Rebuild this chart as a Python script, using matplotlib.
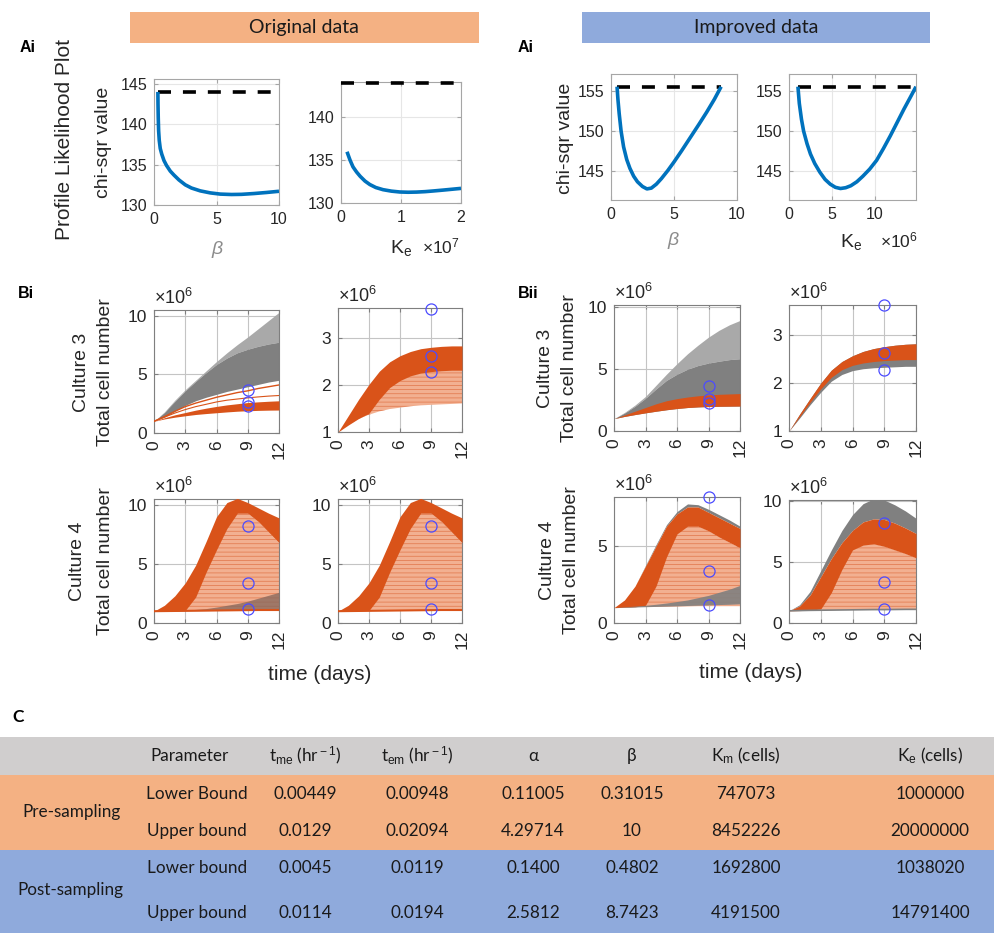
import matplotlib
matplotlib.use("Agg")
import matplotlib.pyplot as plt
from matplotlib.patches import Rectangle

W, H = 994, 933

plt.rcParams['font.family'] = ['Liberation Sans', 'DejaVu Sans']
plt.rcParams['mathtext.fontset'] = 'custom'
plt.rcParams['mathtext.rm'] = 'Liberation Sans'
plt.rcParams['mathtext.it'] = 'Liberation Sans:italic'
plt.rcParams['hatch.linewidth'] = 0.5

ORANGE = '#D95319'
LIGHT_OR = '#F2B091'
GREY = '#808080'
LIGHT_GREY = '#A9A9A9'
BLUE = '#0072BD'
DATA_BLUE = '#4B4BFF'
TXT = '#262626'
TABLE_FONT = ['Lato', 'DejaVu Sans']

# --- A: profile likelihood (chi-sqr) ---
orig_beta = [0.31, 0.32, 0.34, 0.37, 0.42, 0.5, 0.62, 0.8, 1.0, 1.3, 1.6, 2.0, 2.5, 3.0,
             3.7, 4.5, 5.3, 6.2, 7.0, 8.0, 9.0, 10.0]
orig_beta_chi = [144.0, 142.5, 140.8, 139.2, 138.0, 137.0, 136.3, 135.5, 134.9, 134.2, 133.7,
                 133.1, 132.5, 132.1, 131.75, 131.5, 131.35, 131.3, 131.32, 131.42, 131.55, 131.7]
orig_ke = [0.1, 0.15, 0.2, 0.26, 0.32, 0.4, 0.48, 0.58, 0.7, 0.84, 0.98, 1.12, 1.26, 1.4,
           1.54, 1.7, 1.85, 2.0]
orig_ke_chi = [135.96, 135.0, 134.2, 133.6, 133.1, 132.55, 132.15, 131.8, 131.55, 131.38,
               131.28, 131.25, 131.27, 131.32, 131.4, 131.5, 131.6, 131.7]
orig_threshold = 144.0

impr_beta = [0.48, 0.55, 0.65, 0.8, 1.0, 1.25, 1.5, 1.8, 2.1, 2.5, 2.85, 3.2, 3.6, 4.0, 4.5,
             5.0, 5.6, 6.3, 7.0, 7.6, 8.2, 8.74]
impr_beta_chi = [155.6, 154.0, 152.2, 150.0, 148.0, 146.4, 145.3, 144.3, 143.6, 143.0, 142.7,
                 142.8, 143.3, 144.0, 145.0, 146.1, 147.5, 149.2, 150.9, 152.4, 154.0, 155.6]
impr_ke = [1.04, 1.2, 1.45, 1.7, 2.1, 2.5, 3.0, 3.6, 4.2, 4.8, 5.4, 6.0, 6.6, 7.2, 7.9, 8.6,
           9.4, 10.2, 11.0, 11.8, 12.6, 13.4, 14.1, 14.79]
impr_ke_chi = [155.6, 153.5, 151.5, 150.0, 148.4, 147.1, 145.9, 144.8, 143.9, 143.3, 142.9,
               142.75, 142.85, 143.1, 143.6, 144.3, 145.2, 146.3, 147.8, 149.4, 151.1, 152.8,
               154.2, 155.6]
impr_threshold = 155.6

# --- B: simulated cell numbers (x 1e6), envelopes of the ensembles ---
days = [0, 1, 2, 3, 4, 5, 6, 7, 8, 9, 10, 11, 12]
day_ticks = [0, 3, 6, 9, 12]
obs_day = 9
obs_culture3 = [3.63, 2.62, 2.28]
obs_culture4 = [8.2, 3.38, 1.18]

# original data, culture 3, beta profile
o3b_grey_hi = [1.0, 1.8, 2.8, 3.7, 4.5, 5.3, 6.1, 6.85, 7.55, 8.2, 8.9, 9.6, 10.3]
o3b_grey_mid = [1.0, 1.75, 2.7, 3.6, 4.4, 5.15, 5.85, 6.4, 6.85, 7.15, 7.4, 7.6, 7.75]
o3b_grey_lo = [1.0, 1.35, 1.85, 2.35, 2.75, 3.05, 3.3, 3.55, 3.75, 3.95, 4.15, 4.35, 4.5]
o3b_line1 = [1.0, 1.4, 1.85, 2.25, 2.55, 2.8, 3.05, 3.25, 3.45, 3.6, 3.8, 3.95, 4.1]
o3b_line2 = [1.0, 1.35, 1.7, 2.0, 2.25, 2.45, 2.65, 2.8, 2.9, 3.0, 3.08, 3.15, 3.2]
o3b_band_hi = [1.0, 1.3, 1.55, 1.75, 1.95, 2.12, 2.27, 2.4, 2.5, 2.6, 2.66, 2.71, 2.75]
o3b_band_lo = [1.0, 1.2, 1.35, 1.47, 1.58, 1.66, 1.73, 1.8, 1.86, 1.9, 1.93, 1.95, 1.96]

# original data, culture 3, Ke profile
o3k_hi = [1.0, 1.35, 1.7, 2.02, 2.3, 2.5, 2.63, 2.72, 2.78, 2.81, 2.83, 2.84, 2.84]
o3k_mid = [1.0, 1.15, 1.29, 1.4, 1.7, 1.95, 2.1, 2.2, 2.26, 2.29, 2.31, 2.32, 2.32]
o3k_lo = [1.0, 1.15, 1.28, 1.37, 1.44, 1.49, 1.52, 1.55, 1.57, 1.58, 1.59, 1.6, 1.61]

# improved data, culture 3, beta profile
i3b_grey_hi = [1.0, 1.5, 2.1, 2.8, 3.7, 4.6, 5.45, 6.25, 6.95, 7.6, 8.15, 8.6, 8.95]
i3b_grey_mid = [1.0, 1.45, 2.0, 2.65, 3.4, 4.1, 4.6, 5.0, 5.3, 5.5, 5.65, 5.78, 5.85]
i3b_band_hi = [1.0, 1.3, 1.6, 1.9, 2.2, 2.45, 2.62, 2.75, 2.85, 2.92, 2.97, 3.0, 3.03]
i3b_band_lo = [1.0, 1.18, 1.33, 1.47, 1.6, 1.72, 1.82, 1.9, 1.95, 1.98, 2.0, 2.01, 2.02]

# improved data, culture 3, Ke profile
i3k_hi = [1.0, 1.35, 1.68, 2.0, 2.27, 2.45, 2.57, 2.66, 2.72, 2.76, 2.79, 2.81, 2.82]
i3k_lo = [1.0, 1.3, 1.6, 1.88, 2.12, 2.28, 2.37, 2.42, 2.45, 2.47, 2.48, 2.49, 2.49]
i3k_grey_lo = [1.0, 1.27, 1.55, 1.81, 2.04, 2.18, 2.26, 2.3, 2.32, 2.33, 2.34, 2.35, 2.35]

# original data, culture 4 (same envelope in both profiles)
o4_hi = [1.0, 1.5, 2.3, 3.4, 4.9, 6.9, 9.0, 10.2, 10.55, 10.2, 9.75, 9.3, 8.9]
o4_mid = [1.0, 1.01, 1.03, 1.06, 2.2, 4.3, 6.2, 8.0, 9.3, 9.3, 8.6, 7.7, 6.8]
o4_lo = [1.0, 1.01, 1.02, 1.03, 1.04, 1.05, 1.06, 1.07, 1.08, 1.09, 1.1, 1.1, 1.1]
o4b_grey_hi = [1.0, 1.02, 1.05, 1.1, 1.15, 1.22, 1.35, 1.5, 1.65, 1.85, 2.1, 2.35, 2.6]

# improved data, culture 4, beta profile
i4b_grey_hi = [1.0, 1.5, 2.4, 3.75, 5.1, 6.4, 7.25, 7.75, 7.7, 7.4, 7.05, 6.7, 6.3]
i4b_hi = [1.0, 1.5, 2.4, 3.7, 5.0, 6.3, 7.1, 7.55, 7.55, 7.2, 6.85, 6.5, 6.15]
i4b_mid = [1.0, 1.02, 1.05, 1.15, 2.4, 4.3, 5.8, 6.3, 6.3, 6.0, 5.6, 5.25, 4.9]
i4b_lo = [1.0, 1.02, 1.04, 1.05, 1.06, 1.07, 1.08, 1.09, 1.1, 1.1, 1.1, 1.1, 1.1]
i4b_low_grey_hi = [1.0, 1.05, 1.1, 1.15, 1.22, 1.3, 1.4, 1.5, 1.65, 1.8, 2.0, 2.2, 2.45]
i4b_low_grey_lo = [1.0, 1.02, 1.04, 1.06, 1.08, 1.1, 1.12, 1.14, 1.16, 1.18, 1.2, 1.22, 1.25]

# improved data, culture 4, Ke profile
i4k_grey_hi = [1.0, 1.5, 2.6, 4.3, 6.0, 7.6, 8.9, 9.8, 10.2, 10.1, 9.7, 9.2, 8.6]
i4k_hi = [1.0, 1.4, 2.3, 3.8, 5.3, 6.6, 7.6, 8.3, 8.55, 8.5, 8.2, 7.8, 7.35]
i4k_mid = [1.0, 1.02, 1.05, 1.15, 2.5, 4.4, 6.0, 6.4, 6.5, 6.3, 6.0, 5.7, 5.35]
i4k_lo = [1.0, 1.02, 1.04, 1.05, 1.06, 1.07, 1.08, 1.09, 1.1, 1.1, 1.11, 1.12, 1.12]

# --- C: parameter table ---
table_header = ["Parameter", r"t$_{\rm me}$ (hr$^{\rm -1}$)", r"t$_{\rm em}$ (hr$^{\rm -1}$)",
                "α", "β", r"K$_{\rm m}$ (cells)", r"K$_{\rm e}$ (cells)"]
pre_lower = ["0.00449", "0.00948", "0.11005", "0.31015", "747073", "1000000"]
pre_upper = ["0.0129", "0.02094", "4.29714", "10", "8452226", "20000000"]
post_lower = ["0.0045", "0.0119", "0.1400", "0.4802", "1692800", "1038020"]
post_upper = ["0.0114", "0.0194", "2.5812", "8.7423", "4191500", "14791400"]


fig = plt.figure(figsize=(W / 100, H / 100), dpi=100)


def px_axes(x0, y0, x1, y1):
    return fig.add_axes([x0 / W, 1 - y1 / H, (x1 - x0) / W, (y1 - y0) / H])


def ftext(x, y, s, **kw):
    return fig.text(x / W, 1 - y / H, s, **kw)


# ---------- table (drawn first, in pixel coordinates) ----------
tab = fig.add_axes([0, 0, 1, 1])
tab.set_xlim(0, W)
tab.set_ylim(H, 0)
tab.axis('off')
tab.add_patch(Rectangle((0, 737), W, 38, color='#D0CECE', lw=0))
tab.add_patch(Rectangle((0, 775), W, 75, color='#F4B183', lw=0))
tab.add_patch(Rectangle((0, 850), W, 83, color='#8FAADC', lw=0))

col_x = [190, 305, 417, 533, 632, 746, 930]
tkw = dict(ha='center', va='center', fontsize=12.3, color='#1a1a1a', family=TABLE_FONT)
for x, s in zip(col_x, table_header):
    tab.text(x, 756, s, **tkw)
rows = [("Lower Bound", pre_lower, 794), ("Upper bound", pre_upper, 831),
        ("Lower bound", post_lower, 868), ("Upper bound", post_upper, 913)]
for label, vals, y in rows:
    tab.text(col_x[0] + 7, y, label, **tkw)
    for x, v in zip(col_x[1:], vals):
        tab.text(x, y, v, **tkw)
tab.text(72, 812, "Pre-sampling", **tkw)
tab.text(70, 890, "Post-sampling", **tkw)
ftext(12, 717, "C", fontsize=12.5, fontweight='bold', family=TABLE_FONT, va='center')

# ---------- header boxes ----------
tab.add_patch(Rectangle((130, 12), 349, 31, color='#F4B183', lw=0))
tab.add_patch(Rectangle((582, 12), 348, 31, color='#8FAADC', lw=0))
tab.text(304, 28, "Original data", ha='center', va='center', fontsize=14, family=TABLE_FONT, color='#1a1a1a')
tab.text(756, 28, "Improved data", ha='center', va='center', fontsize=14, family=TABLE_FONT, color='#1a1a1a')

for x, y, s in [(20, 47, "Ai"), (518, 47, "Ai"), (18, 293, "Bi"), (518, 293, "Bii")]:
    ftext(x, y, s, fontsize=11.5, fontweight='bold', va='center', ha='left')


# ---------- A panels ----------
def profile(box, x, y, thr, thr_x, xlim, ylim, xticks, yticks):
    ax = px_axes(*box)
    ax.plot(thr_x, [thr, thr], color='black', lw=2.6, ls=(0, (3.6, 3.3)), clip_on=False, zorder=3)
    ax.plot(x, y, color=BLUE, lw=2.6, solid_capstyle='butt', solid_joinstyle='round', zorder=4)
    ax.set_xlim(xlim)
    ax.set_ylim(ylim)
    ax.set_xticks(xticks)
    ax.set_yticks(yticks)
    ax.grid(True, color='#e6e6e6', lw=0.8)
    ax.set_axisbelow(True)
    for s in ax.spines.values():
        s.set_color('#a6a6a6')
        s.set_linewidth(0.8)
    ax.tick_params(direction='in', length=3, color='#a6a6a6', labelsize=11.5,
                   labelcolor=TXT, pad=5, top=True, right=True)
    return ax


profile((154, 79, 279, 205), orig_beta, orig_beta_chi, orig_threshold, [orig_beta[0], 10],
        (0, 10), (130, 145.6), [0, 5, 10], [130, 135, 140, 145])
profile((341, 82, 461, 203), orig_ke, orig_ke_chi, orig_threshold, [0, 2],
        (0, 2), (130, 144.07), [0, 1, 2], [130, 135, 140])
profile((611, 74, 737, 200), impr_beta, impr_beta_chi, impr_threshold, [impr_beta[0], impr_beta[-1]],
        (0, 10), (141.3, 157.2), [0, 5, 10], [145, 150, 155])
profile((789, 74, 916, 200), impr_ke, impr_ke_chi, impr_threshold, [impr_ke[0], impr_ke[-1]],
        (0, 14.79), (141.3, 157.2), [0, 5, 10], [145, 150, 155])

ftext(65, 140, "Profile Likelihood Plot", rotation=90, fontsize=15, ha='center', va='center', color=TXT)
ftext(103, 142, "chi-sqr value", rotation=90, fontsize=14, ha='center', va='center', color=TXT)
ftext(566, 138, "chi-sqr value", rotation=90, fontsize=14, ha='center', va='center', color=TXT)
ftext(217, 249, "β", fontsize=14, style='italic', color='#8c8c8c', ha='center', va='center')
ftext(673, 241, "β", fontsize=14, style='italic', color='#8c8c8c', ha='center', va='center')
ftext(401, 248, r"K$_{\rm e}$", fontsize=14, color=TXT, ha='center', va='center')
ftext(422, 246, r"$\times10^{7}$", fontsize=12.5, color=TXT, ha='left', va='center')
ftext(851, 242, r"K$_{\rm e}$", fontsize=14, color=TXT, ha='center', va='center')
ftext(880, 240, r"$\times10^{6}$", fontsize=12.5, color=TXT, ha='left', va='center')


# ---------- B panels ----------
def ensemble(box, ylim, yticks):
    ax = px_axes(*box)
    ax.set_xlim(0, 12)
    ax.set_ylim(ylim)
    ax.set_xticks(day_ticks)
    ax.set_yticks(yticks)
    ax.grid(True, color='#c4c4c4', lw=0.8)
    ax.set_axisbelow(True)
    for s in ax.spines.values():
        s.set_color('#7f7f7f')
        s.set_linewidth(0.8)
    ax.tick_params(direction='in', length=3, color='#7f7f7f', labelsize=12.5,
                   labelcolor=TXT, pad=5, top=True, right=True)
    ax.tick_params(axis='x', labelrotation=90)
    ax.text(0, 1.015, r"$\times10^{6}$", transform=ax.transAxes, fontsize=13,
            color=TXT, ha='left', va='bottom')
    return ax


def band(ax, lo, hi, color, alpha=1.0, z=2, hatch=None):
    if hatch:
        ax.fill_between(days, lo, hi, facecolor=color, edgecolor='#E07448', hatch=hatch,
                        lw=0, zorder=z, alpha=alpha)
    else:
        ax.fill_between(days, lo, hi, color=color, alpha=alpha, lw=0, zorder=z)


def observed(ax, obs):
    ax.plot([obs_day] * len(obs), obs, 'o', mfc='none', mec=DATA_BLUE, ms=8, mew=0.9,
            clip_on=False, zorder=6)


# original, culture 3
ax = ensemble((154, 310, 279, 433), (0, 10.5), [0, 5, 10])
band(ax, o3b_grey_mid, o3b_grey_hi, LIGHT_GREY)
band(ax, o3b_grey_lo, o3b_grey_mid, GREY)
ax.plot(days, o3b_line1, color=ORANGE, lw=1.0, zorder=3)
ax.plot(days, o3b_line2, color=ORANGE, lw=0.8, zorder=3)
band(ax, o3b_band_lo, o3b_band_hi, ORANGE, z=3)
observed(ax, obs_culture3)

ax = ensemble((338, 308, 462, 432), (1, 3.65), [1, 2, 3])
band(ax, o3k_lo, o3k_mid, LIGHT_OR, hatch='----')
band(ax, o3k_mid, o3k_hi, ORANGE, z=3)
observed(ax, obs_culture3)

# improved, culture 3
ax = ensemble((614, 305, 740, 431), (0, 10.2), [0, 5, 10])
band(ax, i3b_grey_mid, i3b_grey_hi, LIGHT_GREY)
band(ax, i3b_band_lo, i3b_grey_mid, GREY)
band(ax, i3b_band_lo, i3b_band_hi, ORANGE, z=3)
observed(ax, obs_culture3)

ax = ensemble((789, 305, 916, 431), (1, 3.63), [1, 2, 3])
band(ax, i3k_grey_lo, i3k_hi, GREY)
band(ax, i3k_lo, i3k_hi, ORANGE, z=3)
observed(ax, obs_culture3)

# original, culture 4
ax = ensemble((154, 499, 279, 623), (0, 10.5), [0, 5, 10])
band(ax, o4_lo, o4_mid, LIGHT_OR, hatch='----')
band(ax, o4_mid, o4_hi, ORANGE, z=3)
band(ax, o4_lo, o4b_grey_hi, '#8a6a5e', alpha=0.8, z=3)
ax.plot(days, o4_lo, color=ORANGE, lw=1.5, zorder=4)
observed(ax, obs_culture4)

ax = ensemble((338, 499, 462, 623), (0, 10.5), [0, 5, 10])
band(ax, o4_lo, o4_mid, LIGHT_OR, hatch='----')
band(ax, o4_mid, o4_hi, ORANGE, z=3)
ax.plot(days, o4_lo, color=ORANGE, lw=1.5, zorder=4)
observed(ax, obs_culture4)

# improved, culture 4
ax = ensemble((614, 497, 740, 623), (0, 8.2), [0, 5])
band(ax, i4b_hi, i4b_grey_hi, GREY, z=3)
band(ax, i4b_lo, i4b_mid, LIGHT_OR, hatch='----')
band(ax, i4b_mid, i4b_hi, ORANGE, z=3)
band(ax, i4b_low_grey_lo, i4b_low_grey_hi, GREY, alpha=0.9, z=3)
observed(ax, obs_culture4)

ax = ensemble((789, 500, 916, 623), (0, 10.1), [0, 5, 10])
band(ax, i4k_hi, i4k_grey_hi, GREY, z=3)
band(ax, i4k_lo, i4k_mid, LIGHT_OR, hatch='----')
band(ax, i4k_mid, i4k_hi, ORANGE, z=3)
ax.plot(days, i4k_lo, color=GREY, lw=1.2, zorder=4)
observed(ax, obs_culture4)

for xc, xt, yc, n in [(82, 106, 372, 3), (78, 106, 561, 4), (545, 570, 368, 3), (547, 572, 560, 4)]:
    ftext(xc, yc, f"Culture {n}", rotation=90, fontsize=14, ha='center', va='center', color=TXT)
    ftext(xt, yc, "Total cell number", rotation=90, fontsize=14, ha='center', va='center', color=TXT)

ftext(320, 675, "time (days)", fontsize=15, ha='center', va='center', color=TXT)
ftext(751, 673, "time (days)", fontsize=15, ha='center', va='center', color=TXT)

fig.savefig("out.png", dpi=100)
